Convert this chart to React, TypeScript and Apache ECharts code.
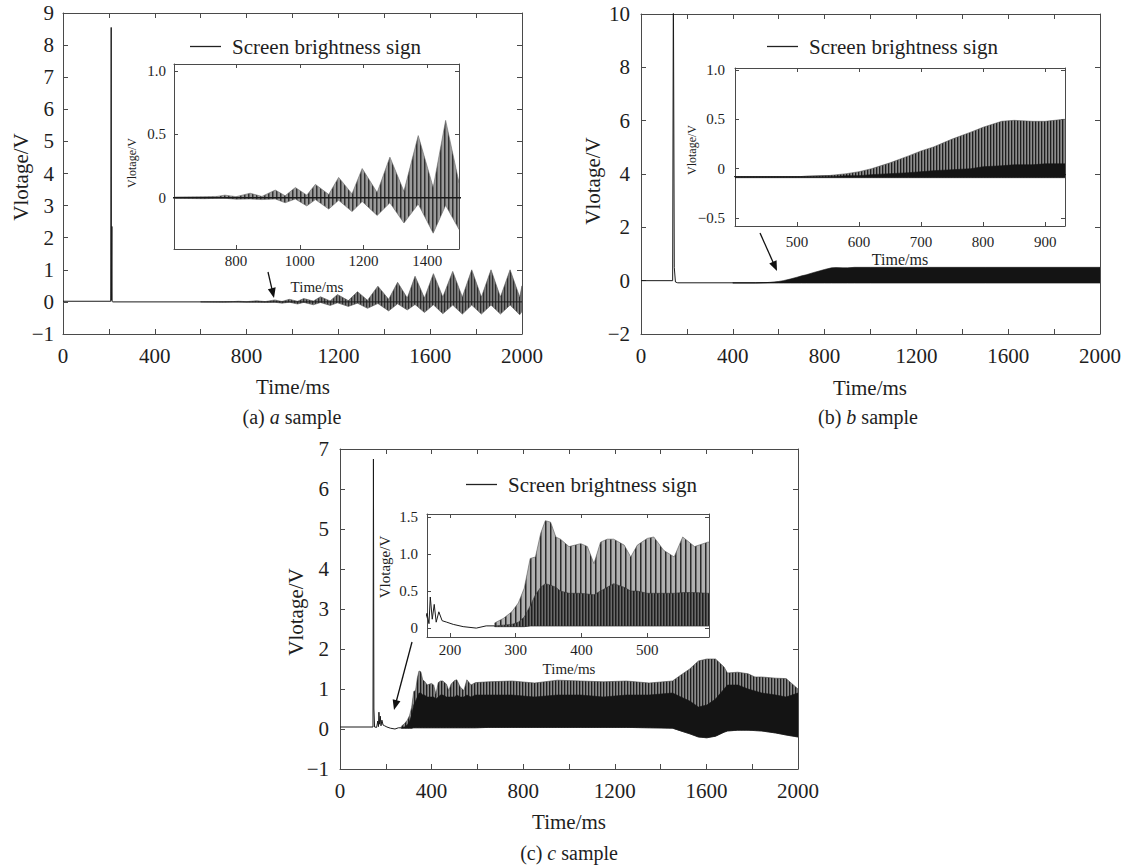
import React, { useEffect, useRef } from "react";
import * as echarts from "echarts";

const FONT = "'Liberation Serif', 'Times New Roman', serif";
const SERIES_NAME = "Screen brightness sign";

// ---------- Panel (a) ----------
const aSigT = [0, 208, 210, 211, 212, 213, 214, 216, 2000];
const aSigV = [0.02, 0.02, 8.55, 0.05, 0.05, 2.35, 0.02, 0, 0];
const aEnvT = [600, 700, 740, 765, 800, 844, 881, 923, 954, 986, 1022, 1049, 1091, 1122, 1164, 1196, 1243, 1283, 1327, 1372, 1419, 1458, 1500, 1534, 1575, 1614, 1655, 1698, 1740, 1781, 1823, 1865, 1906, 1948, 1990, 2000];
const aHi = [0.005, 0.008, 0.01, 0.02, 0.008, 0.035, 0.01, 0.06, 0.015, 0.08, 0.02, 0.105, 0.025, 0.16, 0.03, 0.23, 0.04, 0.32, 0.05, 0.49, 0.08, 0.61, 0.12, 0.8, 0.12, 0.88, 0.15, 0.95, 0.15, 1.0, 0.15, 1.0, 0.15, 1.0, 0.15, 0.5];
const aLo = [-0.005, -0.008, -0.005, -0.005, -0.012, -0.01, -0.015, -0.01, -0.04, -0.01, -0.065, -0.015, -0.09, -0.02, -0.11, -0.03, -0.14, -0.04, -0.2, -0.05, -0.28, -0.06, -0.25, -0.08, -0.33, -0.09, -0.37, -0.1, -0.38, -0.1, -0.38, -0.1, -0.38, -0.1, -0.4, -0.3];

// ---------- Panel (b) ----------
const bSigT = [0, 138, 141, 145, 150, 160, 500, 560, 600, 2000];
const bSigV = [0, 0, 11.5, 0.5, -0.05, -0.08, -0.08, -0.07, -0.06, -0.06];
const bEnvT = [400, 500, 550, 580, 600, 620, 650, 680, 700, 720, 750, 780, 800, 830, 850, 880, 900, 930, 1000, 1500, 2000];
const bHi = [-0.08, -0.08, -0.07, -0.05, -0.03, 0.0, 0.06, 0.13, 0.18, 0.22, 0.3, 0.37, 0.42, 0.48, 0.49, 0.48, 0.48, 0.5, 0.5, 0.5, 0.5];
const bMid = [-0.08, -0.08, -0.08, -0.07, -0.07, -0.06, -0.05, -0.04, -0.03, -0.02, -0.01, 0.0, 0.02, 0.03, 0.04, 0.04, 0.05, 0.05, 0.05, 0.05, 0.05];
const bLo = [-0.09, -0.09, -0.09, -0.09, -0.09, -0.09, -0.09, -0.09, -0.09, -0.09, -0.09, -0.09, -0.09, -0.09, -0.09, -0.09, -0.09, -0.09, -0.09, -0.09, -0.09];

// ---------- Panel (c) ----------
const cSigT = [0, 144, 146, 148, 151, 160, 165, 168, 170, 173, 176, 179, 183, 188, 195, 205, 220, 240, 255, 268];
const cSigV = [0.05, 0.05, 6.75, 0.5, 0.05, 0.04, 0.2, 0.06, 0.42, 0.12, 0.32, 0.08, 0.22, 0.1, 0.08, 0.05, 0.02, 0.0, 0.03, 0.03];
const cEnvT = [268, 281, 294, 304, 313, 322, 330, 338, 345, 353, 361, 368, 381, 399, 409, 419, 429, 439, 449, 465, 475, 485, 500, 510, 525, 541, 554, 572, 592, 650, 750, 850, 950, 1050, 1150, 1250, 1350, 1452, 1489, 1527, 1565, 1602, 1640, 1677, 1692, 1737, 1782, 1812, 1842, 1903, 1948, 2000];
const cHi = [0.07, 0.13, 0.22, 0.34, 0.54, 0.94, 0.96, 1.28, 1.45, 1.43, 1.23, 1.2, 1.1, 1.14, 1.1, 0.87, 1.16, 1.2, 1.2, 1.12, 0.96, 1.12, 1.21, 1.23, 1.05, 0.96, 1.23, 1.1, 1.16, 1.18, 1.2, 1.15, 1.22, 1.2, 1.18, 1.2, 1.15, 1.2, 1.35, 1.5, 1.7, 1.75, 1.75, 1.55, 1.4, 1.42, 1.38, 1.3, 1.3, 1.27, 1.26, 1.0];
const cMid = [0.03, 0.04, 0.05, 0.08, 0.15, 0.3, 0.45, 0.55, 0.6, 0.58, 0.55, 0.5, 0.47, 0.47, 0.46, 0.45, 0.5, 0.55, 0.6, 0.55, 0.5, 0.5, 0.47, 0.47, 0.47, 0.47, 0.48, 0.48, 0.47, 0.5, 0.5, 0.5, 0.5, 0.5, 0.5, 0.5, 0.5, 0.5, 0.45, 0.4, 0.35, 0.35, 0.45, 0.6, 0.7, 0.7, 0.65, 0.6, 0.55, 0.5, 0.5, 0.5];
const cDark = [0.03, 0.05, 0.1, 0.2, 0.35, 0.6, 0.7, 0.8, 0.9, 0.9, 0.85, 0.85, 0.8, 0.8, 0.8, 0.75, 0.8, 0.85, 0.85, 0.8, 0.8, 0.8, 0.8, 0.85, 0.8, 0.8, 0.85, 0.8, 0.85, 0.85, 0.85, 0.8, 0.85, 0.85, 0.8, 0.85, 0.85, 0.9, 0.8, 0.7, 0.55, 0.6, 0.75, 1.0, 1.1, 1.1, 1.0, 0.95, 0.9, 0.85, 0.8, 0.9];
const cLo = [0.02, 0.02, 0.02, 0.02, 0.02, 0.03, 0.03, 0.03, 0.03, 0.03, 0.03, 0.03, 0.03, 0.03, 0.03, 0.03, 0.03, 0.03, 0.03, 0.03, 0.03, 0.03, 0.03, 0.03, 0.03, 0.03, 0.03, 0.03, 0.03, 0.04, 0.04, 0.04, 0.04, 0.04, 0.04, 0.04, 0.03, 0.02, -0.05, -0.12, -0.2, -0.22, -0.18, -0.08, -0.05, -0.03, -0.03, -0.04, -0.05, -0.1, -0.15, -0.2];

// ---------- Tick labels ----------
const mainXLabelStep = 400;
const insetAXTicks = [800, 1000, 1200, 1400];
const insetAYTicks = [0, 0.5, 1];
const insetBXTicks = [500, 600, 700, 800, 900];
const insetBYTicks = [-0.5, 0, 0.5, 1];
const insetCXTicks = [200, 300, 400, 500];
const insetCYTicks = [0, 0.5, 1, 1.5];

const fmtNum = (v: number) => String(v).replace("-", "\u2212");
const fmtInset = (v: number) => (v === 1 ? "1.0" : fmtNum(v));
const fmtMainX = (v: number) => (v % mainXLabelStep === 0 ? String(v) : "");

type AxisSpec = {
  min: number; max: number; interval?: number; ticks?: number[];
  fmt: (v: number) => string; margin: number; fontSize: number; tickLen: number;
};

function axesFor(grid: number, xs: AxisSpec, ys: AxisSpec, z: number) {
  const mk = (s: AxisSpec, pos: string, showLabel: boolean) => ({
    type: "value", gridIndex: grid, position: pos, min: s.min, max: s.max,
    ...(s.interval ? { interval: s.interval } : {}),
    z,
    axisLine: { show: true, onZero: false, lineStyle: { color: "#4a4a4a", width: 1 } },
    axisTick: { show: true, inside: true, length: s.tickLen, lineStyle: { color: "#4a4a4a" }, ...(s.ticks ? { customValues: s.ticks } : {}) },
    axisLabel: { show: showLabel, margin: s.margin, fontSize: s.fontSize, fontFamily: FONT, color: "#1e1e1e", formatter: s.fmt, ...(s.ticks ? { customValues: s.ticks } : {}) },
    splitLine: { show: false },
  });
  return { x: [mk(xs, "bottom", true), mk(xs, "top", false)], y: [mk(ys, "left", true), mk(ys, "right", false)] };
}

function stripes(period: number, lineW: number, dark: string, light: string): any {
  const cv = document.createElement("canvas");
  cv.width = period;
  cv.height = 8;
  const ctx = cv.getContext("2d");
  if (!ctx) return light;
  ctx.fillStyle = light;
  ctx.fillRect(0, 0, period, 8);
  ctx.fillStyle = dark;
  ctx.fillRect(0, 0, lineW, 8);
  return { image: cv, repeat: "repeat" };
}

function lineSeries(name: string | undefined, xi: number, yi: number, T: number[], V: number[], z: number, width = 1) {
  return {
    type: "line", name, xAxisIndex: xi, yAxisIndex: yi, z, clip: true, silent: true,
    symbol: "none", data: T.map((t, i) => [t, V[i]]),
    lineStyle: { color: "#1a1a1a", width }, itemStyle: { color: "#1a1a1a" },
  };
}

function bandSeries(xi: number, yi: number, T: number[], lo: number[], hi: number[], fill: any, stroke: string, z: number) {
  const data = T.map((t, i) => [t, lo[i], hi[i]]);
  return {
    type: "custom", xAxisIndex: xi, yAxisIndex: yi, z, clip: true, silent: true,
    data, encode: { x: 0, y: [1, 2] },
    renderItem: (params: any, api: any) => {
      if (params.dataIndex !== 0) return { type: "group", children: [] };
      const up = data.map((d) => api.coord([d[0], d[2]]));
      const dn = data.slice().reverse().map((d) => api.coord([d[0], d[1]]));
      return { type: "polygon", shape: { points: up.concat(dn) }, style: { fill, stroke, lineWidth: 0.6 } };
    },
  };
}

function arrow(x1: number, y1: number, x2: number, y2: number) {
  const dx = x2 - x1, dy = y2 - y1, L = Math.hypot(dx, dy);
  const ux = dx / L, uy = dy / L, hl = 10, hw = 4;
  const bx = x2 - ux * hl, by = y2 - uy * hl;
  return [
    { type: "line", shape: { x1, y1, x2: bx + ux * 2, y2: by + uy * 2 }, style: { stroke: "#111", lineWidth: 1.3 } },
    { type: "polygon", shape: { points: [[x2, y2], [bx - uy * hw, by + ux * hw], [bx + uy * hw, by - ux * hw]] }, style: { fill: "#111" } },
  ];
}

function txt(text: string, x: number, y: number, size: number, rotate = false, rich?: any) {
  return {
    type: "text", x, y, rotation: rotate ? Math.PI / 2 : 0,
    style: { text, fontSize: size, fontFamily: FONT, fill: "#1e1e1e", align: "center", verticalAlign: "middle", ...(rich ? { rich } : {}) },
  };
}

export default function App() {
  const ref = useRef<HTMLDivElement>(null);
  useEffect(() => {
    if (!ref.current) return;
    const chart = echarts.init(ref.current, undefined, { renderer: "svg" });

    const grids = [
      { left: 63, top: 13, width: 459, height: 321 },
      { left: 641, top: 14, width: 459, height: 320 },
      { left: 340, top: 449, width: 458, height: 320 },
      { left: 174, top: 64, width: 285, height: 185, show: true, backgroundColor: "#fff", borderWidth: 0, z: 3 },
      { left: 735, top: 68, width: 330, height: 158, show: true, backgroundColor: "#fff", borderWidth: 0, z: 3 },
      { left: 427, top: 514, width: 282, height: 123, show: true, backgroundColor: "#fff", borderWidth: 0, z: 3 },
    ];

    const mainX = (): AxisSpec => ({ min: 0, max: 2000, interval: 200, fmt: fmtMainX, margin: 11, fontSize: 21, tickLen: 5 });
    const sets = [
      axesFor(0, mainX(), { min: -1, max: 9, interval: 1, fmt: fmtNum, margin: 9, fontSize: 21, tickLen: 5 }, 1),
      axesFor(1, mainX(), { min: -2, max: 10, interval: 2, fmt: fmtNum, margin: 11, fontSize: 21, tickLen: 5 }, 1),
      axesFor(2, mainX(), { min: -1, max: 7, interval: 1, fmt: fmtNum, margin: 11, fontSize: 21, tickLen: 5 }, 1),
      axesFor(3, { min: 605, max: 1500, ticks: insetAXTicks, fmt: fmtNum, margin: 4, fontSize: 15, tickLen: 4 },
        { min: -0.405, max: 1.055, ticks: insetAYTicks, fmt: fmtInset, margin: 8, fontSize: 15, tickLen: 4 }, 6),
      axesFor(4, { min: 400, max: 932, ticks: insetBXTicks, fmt: fmtNum, margin: 8, fontSize: 15, tickLen: 4 },
        { min: -0.58, max: 1.02, ticks: insetBYTicks, fmt: fmtInset, margin: 10, fontSize: 15, tickLen: 4 }, 6),
      axesFor(5, { min: 165, max: 594, ticks: insetCXTicks, fmt: fmtNum, margin: 5, fontSize: 15, tickLen: 4 },
        { min: -0.12, max: 1.54, ticks: insetCYTicks, fmt: fmtInset, margin: 9, fontSize: 15, tickLen: 4 }, 6),
    ];
    const xAxis = sets.flatMap((s) => s.x);
    const yAxis = sets.flatMap((s) => s.y);

    const series = [
      // (a) main
      bandSeries(0, 0, aEnvT, aLo, aHi, stripes(3, 1.2, "#2e2e2e", "#7c7c7c"), "#555", 2),
      lineSeries(SERIES_NAME, 0, 0, aSigT, aSigV, 3),
      // (b) main
      lineSeries(SERIES_NAME, 2, 2, bSigT, bSigV, 3),
      bandSeries(2, 2, bEnvT, bLo, bHi, "#141414", "#141414", 4),
      // (c) main
      lineSeries(SERIES_NAME, 4, 4, cSigT, cSigV, 3),
      bandSeries(4, 4, cEnvT, cLo, cHi, stripes(3, 1.3, "#1e1e1e", "#8a8a8a"), "#444", 4),
      bandSeries(4, 4, cEnvT, cLo, cDark, "#141414", "#141414", 5),
      // (a) inset
      bandSeries(6, 6, aEnvT, aLo, aHi, stripes(4, 1.5, "#333", "#9a9a9a"), "#666", 7),
      lineSeries(undefined, 6, 6, aSigT, aSigV, 8, 1.4),
      // (b) inset
      lineSeries(undefined, 8, 8, bSigT, bSigV, 7),
      bandSeries(8, 8, bEnvT, bLo, bHi, stripes(3, 1.3, "#1e1e1e", "#8c8c8c"), "#555", 8),
      bandSeries(8, 8, bEnvT, bLo, bMid, "#141414", "#141414", 9),
      // (c) inset
      lineSeries(undefined, 10, 10, cSigT, cSigV, 8),
      bandSeries(10, 10, cEnvT, cLo, cHi, stripes(5, 1.5, "#2a2a2a", "#b0b0b0"), "#555", 8),
      bandSeries(10, 10, cEnvT, cLo, cMid, stripes(3, 1.5, "#1e1e1e", "#6a6a6a"), "#333", 9),
    ];

    const legendBase = {
      data: [SERIES_NAME], icon: "rect", itemWidth: 31, itemHeight: 1.3, selectedMode: false,
      itemStyle: { color: "#222" },
      textStyle: { fontFamily: FONT, fontSize: 21, color: "#1e1e1e", padding: [0, 0, 0, 6] },
    };

    const rich = { i: { fontStyle: "italic", fontSize: 20, fontFamily: FONT, fill: "#1e1e1e" } };

    chart.setOption({
      animation: false,
      backgroundColor: "#fff",
      grid: grids,
      xAxis,
      yAxis,
      legend: [
        { ...legendBase, left: 185, top: 31 },
        { ...legendBase, left: 762, top: 31 },
        { ...legendBase, left: 461, top: 469 },
      ],
      series,
      graphic: [
        txt("Vlotage/V", 21, 177, 21, true),
        txt("Vlotage/V", 593, 181, 21, true),
        txt("Vlotage/V", 296, 612, 21, true),
        txt("Time/ms", 293, 387, 21),
        txt("Time/ms", 870, 388, 21),
        txt("Time/ms", 569, 822, 21),
        txt("(a) {i|a} sample", 292, 417, 20, false, rich),
        txt("(b) {i|b} sample", 868, 417, 20, false, rich),
        txt("(c) {i|c} sample", 569, 853, 20, false, rich),
        txt("Vlotage/V", 132, 163, 12, true),
        txt("Vlotage/V", 692, 150, 12, true),
        txt("Vlotage/V", 385, 567, 15, true),
        txt("Time/ms", 317, 287, 15),
        txt("Time/ms", 900, 259, 16),
        txt("Time/ms", 569, 669, 15),
        ...arrow(268, 272, 274, 298),
        ...arrow(760, 233, 777, 271),
        ...arrow(412, 642, 394, 710),
      ],
    });
    return () => chart.dispose();
  }, []);
  return <div ref={ref} style={{ position: "absolute", left: 0, top: 0, width: 1127, height: 867, background: "#fff" }} />;
}
